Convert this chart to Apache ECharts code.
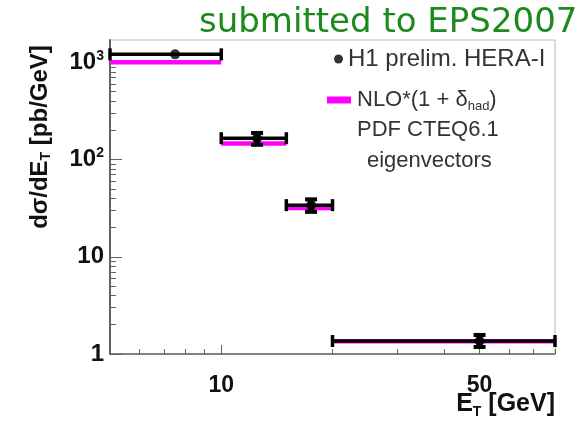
<!DOCTYPE html>
<html>
<head>
<meta charset="utf-8">
<script src="https://cdn.jsdelivr.net/npm/echarts@6/dist/echarts.min.js"></script>
<style>
  html, body { margin: 0; padding: 0; background: #ffffff; }
  #chart { width: 583px; height: 424px; }
</style>
</head>
<body>
<div id="chart"></div>
<script>
// E_T bins [GeV]
const binLow = [5, 10, 15, 20];
const binHigh = [10, 15, 20, 80];
const etCentre = [7.5, 12.5, 17.5, 50];

// H1 preliminary HERA-I cross section dσ/dE_T [pb/GeV] with total errors
const h1Value = [1210, 166, 34, 1.36];
const h1ErrLow = [1180, 142, 29, 1.18];
const h1ErrHigh = [1240, 188, 39, 1.57];

// NLO*(1 + δhad) prediction, CTEQ6.1 eigenvector band
const nloValue = [1010, 147, 32, 1.36];

// axis ticks and labels
const xMinorTicks = [6, 7, 8, 9, 20, 30, 40, 50, 60, 70, 80];
const xMajorTicks = [10];
const xLabels = [10, 50];
const yMajorTicks = [1, 10, 100, 1000];
const yMinorTicks = [2, 3, 4, 5, 6, 7, 8, 9, 20, 30, 40, 50, 60, 70, 80, 90,
                     200, 300, 400, 500, 600, 700, 800, 900];
const yLabelText = { 1: '1', 10: '10', 100: '10{sup|2}', 1000: '10{sup|3}' };

const X_MIN = 5, X_MAX = 80, Y_MIN = 1, Y_MAX = 1700;

const h1Bars = binLow.map((lo, i) => [lo, binHigh[i], etCentre[i], h1ErrLow[i], h1ErrHigh[i], h1Value[i]]);
const h1Points = etCentre.map((x, i) => [x, h1Value[i]]);
const nloBand = binLow.map((lo, i) => [lo, binHigh[i], nloValue[i]]);

const axisGrey = '#5f665f';
const sansFont = 'Liberation Sans';
const titleFont = 'DejaVu Sans';

function renderErrorBars(params, api) {
  const y = api.value(5);
  const left = api.coord([api.value(0), y]);
  const right = api.coord([api.value(1), y]);
  const centre = api.coord([api.value(2), y]);
  const low = api.coord([api.value(2), api.value(3)]);
  const high = api.coord([api.value(2), api.value(4)]);
  const cap = 6;
  const style = { stroke: '#000', lineWidth: 3.5 };
  const children = [
    { type: 'line', shape: { x1: left[0], y1: left[1], x2: right[0], y2: right[1] }, style },
    { type: 'line', shape: { x1: left[0], y1: left[1] - cap, x2: left[0], y2: left[1] + cap }, style },
    { type: 'line', shape: { x1: right[0], y1: right[1] - cap, x2: right[0], y2: right[1] + cap }, style }
  ];
  // vertical error only when it extends beyond the marker
  if (low[1] - high[1] > 10) {
    children.push(
      { type: 'line', shape: { x1: centre[0], y1: low[1], x2: centre[0], y2: high[1] }, style: { stroke: '#000', lineWidth: 6 } },
      { type: 'line', shape: { x1: centre[0] - cap, y1: low[1], x2: centre[0] + cap, y2: low[1] }, style: { stroke: '#000', lineWidth: 4 } },
      { type: 'line', shape: { x1: centre[0] - cap, y1: high[1], x2: centre[0] + cap, y2: high[1] }, style: { stroke: '#000', lineWidth: 4 } }
    );
  }
  return { type: 'group', children };
}

function renderBand(params, api) {
  const left = api.coord([api.value(0), api.value(2)]);
  const right = api.coord([api.value(1), api.value(2)]);
  return {
    type: 'rect',
    shape: { x: left[0], y: left[1] - 2, width: right[0] - left[0], height: 4.5 },
    style: { fill: '#ff00ff' }
  };
}

const chart = echarts.init(document.getElementById('chart'), null, { renderer: 'canvas' });

chart.setOption({
  backgroundColor: '#ffffff',
  animation: false,
  title: {
    text: 'submitted to EPS2007',
    left: 194, top: 1,
    textStyle: { color: '#1d8a1d', fontSize: 34, fontWeight: 'normal', fontFamily: titleFont }
  },
  grid: {
    left: 110, right: 28, top: 40, bottom: 70,
    show: true, borderColor: '#b4bbb4', borderWidth: 1, backgroundColor: 'transparent'
  },
  legend: [
    {
      data: ['H1 prelim. HERA-I'],
      left: 329, top: 42,
      icon: 'circle', itemWidth: 9, itemHeight: 9,
      textStyle: { fontFamily: sansFont, fontSize: 24, color: '#333', padding: [0, 0, 0, 0] }
    },
    {
      data: ['NLO*(1 + δhad)'],
      left: 322, top: 84,
      icon: 'rect', itemWidth: 24, itemHeight: 7,
      formatter: () => 'NLO*(1 + δ{sub|had})',
      textStyle: {
        fontFamily: sansFont, fontSize: 22, color: '#333', padding: [0, 0, 0, 1],
        rich: { sub: { fontFamily: sansFont, fontSize: 13, color: '#333', padding: [12, 0, 0, 0] } }
      }
    }
  ],
  graphic: [
    {
      type: 'text', left: 357, top: 119,
      style: { text: 'PDF CTEQ6.1', font: '22px "Liberation Sans"', fill: '#333' }
    },
    {
      type: 'text', left: 367, top: 150,
      style: { text: 'eigenvectors', font: '22px "Liberation Sans"', fill: '#333' }
    },
    {
      type: 'text', x: 40, y: 137, rotation: Math.PI / 2,
      style: {
        text: 'dσ/dE{sub|T} [pb/GeV]',
        font: 'bold 24px "Liberation Sans"', fill: '#111',
        align: 'center', verticalAlign: 'middle',
        rich: { sub: { font: 'bold 14px "Liberation Sans"', fill: '#111', padding: [13, 0, 0, 0] } }
      }
    },
    {
      type: 'text', right: 28, top: 392,
      style: {
        text: 'E{sub|T} [GeV]',
        font: 'bold 25px "Liberation Sans"', fill: '#111',
        rich: { sub: { font: 'bold 14px "Liberation Sans"', fill: '#111', padding: [15, 0, 0, 0] } }
      }
    }
  ],
  xAxis: [
    {
      type: 'log', logBase: 10, min: X_MIN, max: X_MAX, position: 'bottom',
      axisLine: { show: true, lineStyle: { color: axisGrey, width: 1.5 } },
      axisTick: { show: true, inside: true, length: 5, customValues: xMinorTicks, lineStyle: { color: axisGrey } },
      axisLabel: {
        customValues: xLabels, margin: 20,
        fontFamily: sansFont, fontWeight: 'bold', fontSize: 23, color: '#111'
      },
      splitLine: { show: false }
    },
    {
      type: 'log', logBase: 10, min: X_MIN, max: X_MAX, position: 'bottom',
      axisLine: { show: false },
      axisTick: { show: true, inside: true, length: 9, customValues: xMajorTicks, lineStyle: { color: axisGrey } },
      axisLabel: { show: false },
      splitLine: { show: false }
    }
  ],
  yAxis: [
    {
      type: 'log', logBase: 10, min: Y_MIN, max: Y_MAX, position: 'left',
      axisLine: { show: true, lineStyle: { color: axisGrey, width: 2 } },
      axisTick: { show: true, inside: true, length: 6, customValues: yMinorTicks, lineStyle: { color: axisGrey } },
      axisLabel: {
        customValues: yMajorTicks, margin: 6,
        formatter: v => yLabelText[Math.round(v)] || '',
        fontFamily: sansFont, fontWeight: 'bold', fontSize: 24, color: '#111',
        rich: { sup: { fontFamily: sansFont, fontWeight: 'bold', fontSize: 14, color: '#111', padding: [0, 0, 13, 0] } }
      },
      splitLine: { show: false }
    },
    {
      type: 'log', logBase: 10, min: Y_MIN, max: Y_MAX, position: 'left',
      axisLine: { show: false },
      axisTick: { show: true, inside: true, length: 12, customValues: yMajorTicks, lineStyle: { color: axisGrey } },
      axisLabel: { show: false },
      splitLine: { show: false }
    }
  ],
  series: [
    {
      name: 'NLO*(1 + δhad)',
      type: 'custom',
      renderItem: renderBand,
      itemStyle: { color: '#ff00ff' },
      encode: { x: [0, 1], y: 2 },
      data: nloBand
    },
    {
      name: 'H1 errors',
      type: 'custom',
      renderItem: renderErrorBars,
      encode: { x: [0, 1, 2], y: [3, 4, 5] },
      data: h1Bars
    },
    {
      name: 'H1 prelim. HERA-I',
      type: 'scatter',
      symbol: 'circle', symbolSize: 10,
      itemStyle: { color: '#000' },
      data: h1Points
    }
  ]
});
</script>
</body>
</html>
